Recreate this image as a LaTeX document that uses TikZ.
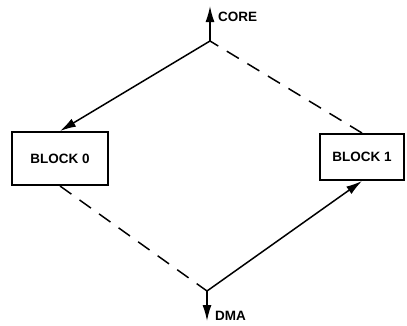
\documentclass[tikz,border=0pt]{standalone}
\usepackage{fontspec}
\setmainfont{Liberation Sans}
\usetikzlibrary{arrows.meta}
\begin{document}
\begin{tikzpicture}[x=1pt,y=-1pt,
  blockbox/.style={draw,line width=2pt,inner sep=0pt,font=\fontsize{13.5}{15}\selectfont\bfseries},
  lbl/.style={inner sep=0pt,anchor=west,font=\fontsize{13.5}{15}\selectfont\bfseries},
  conn/.style={line width=1.5pt},
  arr/.style={conn,-{Latex[length=16pt,width=9pt]}},
  dsh/.style={conn,dash pattern=on 14pt off 10pt}]
\useasboundingbox (0,0) rectangle (407,325);
\node[blockbox,minimum width=96pt,minimum height=53pt] (b0) at (60,158.5) {BLOCK 0};
\node[blockbox,minimum width=84pt,minimum height=46pt] (b1) at (362,157) {BLOCK 1};
\coordinate (jt) at (210,41);
\coordinate (jb) at (207,291);
\coordinate (ct) at (210,6);
\coordinate (dt) at (207,321);
\node[lbl] (core) at (218,17) {CORE};
\node[lbl] (dma) at (215,316) {DMA};
\draw[arr] (jt) -- (ct);
\draw[arr] (jb) -- (dt);
\draw[arr] (jt) -- (b0.north);
\draw[arr] (jb) -- (b1.south);
\draw[dsh] (b1.north) -- (jt);
\draw[dsh] (b0.south) -- (jb);
\end{tikzpicture}
\end{document}
